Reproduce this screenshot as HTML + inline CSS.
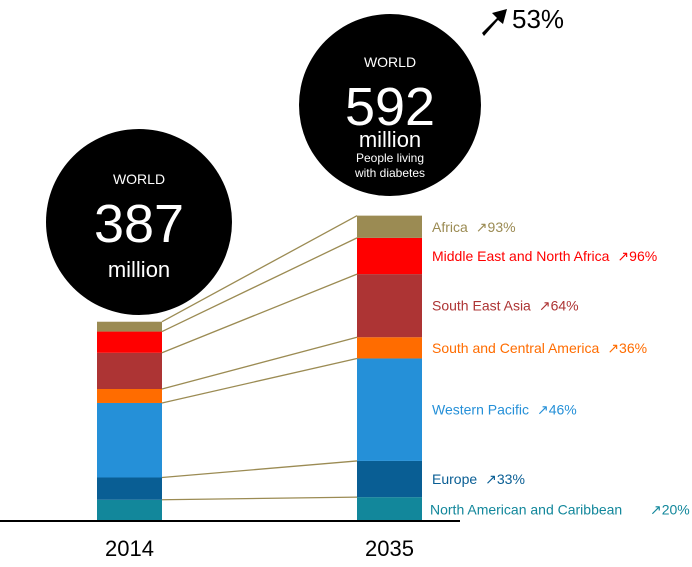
<!DOCTYPE html>
<html><head><meta charset="utf-8"><style>
body{margin:0;background:#fff;font-family:"Liberation Sans",sans-serif}
svg text{font-family:"Liberation Sans",sans-serif}
</style></head><body>
<svg id="c" width="692" height="562">
<g id="circles"></g>
<g id="bars"></g>
</svg>
<script>
const years=["2014","2035"];
const regions=["North American and Caribbean","Europe","Western Pacific","South and Central America","South East Asia","Middle East and North Africa","Africa"];
const values2014=[43,43,144,27,70,41,19];
const values2035=[48,70,198,41,122,70,43];
const growth=["20%","33%","46%","36%","64%","96%","93%"];
const totals=["387","592"];
const colors=["#12879b","#095e94","#2590d8","#ff6c00","#ad3434","#ff0000","#9b8b53"];
const NS="http://www.w3.org/2000/svg";
const svg=document.getElementById('c');
const base=522, k=0.5175, bw=65, bx=[97,357];
const y=v=>base-v*k;
function mk(t,a,p){const e=document.createElementNS(NS,t);for(const n in a)e.setAttribute(n,a[n]);(p||svg).appendChild(e);return e;}
const series=[values2014,values2035];
const tops=[[],[]];
series.forEach((vals,i)=>{let c=0;vals.forEach((v,j)=>{const r=mk('rect',{x:bx[i],y:y(c+v),width:bw,height:v*k,fill:colors[j]});


c+=v;tops[i].push(y(c));});});
regions.forEach((r,j)=>{
 const l=mk('line',{x1:bx[0]+bw,y1:tops[0][j],x2:bx[1],y2:tops[1][j],stroke:'#9b8b53','stroke-width':1.3});
 
 
 const prev=j?tops[1][j-1]:base;const cy=(prev+tops[1][j])/2+5;
 const t=mk('text',{x:j==0?430:432,y:cy,fill:colors[j],'font-size':14});
 t.textContent=r;
 
 
 const w=t.getComputedTextLength();
 const ax=(j==0?Math.max(430+w+8,650):432+w+8);
 const g=mk('text',{x:ax,y:cy,fill:colors[j],'font-size':14});
 g.textContent='\u2197'+growth[j];
 
 
});
const axis=mk('line',{x1:0,y1:521,x2:460,y2:521,stroke:'#000','stroke-width':2});


years.forEach((yr,i)=>{const t=mk('text',{x:bx[i]+bw/2,y:556,'text-anchor':'middle','font-size':22});t.textContent=yr;

});
// circles
const cc=[[139,222,93],[390,105,91]];
cc.forEach((c,i)=>{const e=mk('circle',{cx:c[0],cy:c[1],r:c[2],fill:'#000'});


const a=mk('text',{x:c[0],y:c[1]-38,fill:'#fff','font-size':14,'text-anchor':'middle'});a.textContent='WORLD';

const b=mk('text',{x:c[0],y:c[1]+20,fill:'#fff','font-size':54,'text-anchor':'middle'});b.textContent=totals[i];

const m=mk('text',{x:c[0],y:c[1]+i*0+55-(i?13:0),fill:'#fff','font-size':22,'text-anchor':'middle'});m.textContent='million';

});
const p1=mk('text',{x:390,y:162,fill:'#fff','font-size':12,'text-anchor':'middle'});p1.textContent='People living';

const p2=mk('text',{x:390,y:177,fill:'#fff','font-size':12,'text-anchor':'middle'});p2.textContent='with diabetes';

const ar=mk('path',{d:'M482 33 L497 18 L492 13 L507 9 L503 24 L498 20 L484 36 Z',fill:'#000'});

const tt=mk('text',{x:512,y:28,'font-size':26});tt.textContent='53%';

</script>
</body></html>
